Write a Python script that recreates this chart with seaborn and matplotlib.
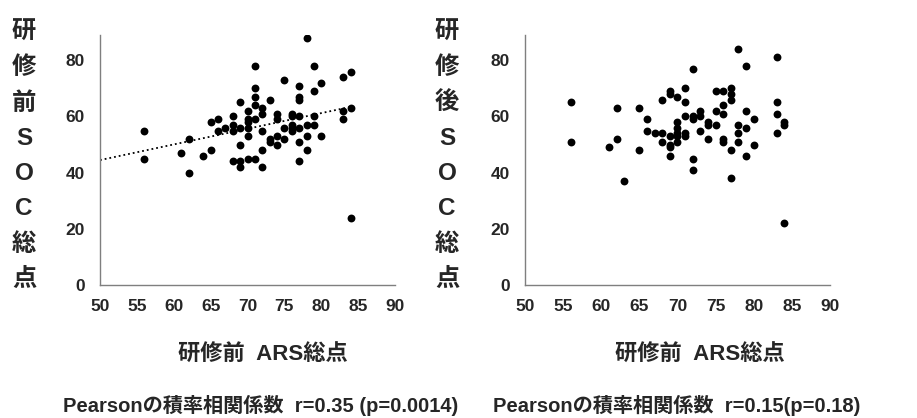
import numpy as np
import pandas as pd
import matplotlib
matplotlib.use("Agg")
import matplotlib.pyplot as plt
import seaborn as sns

# -----------------------
# Data
# -----------------------
pre_ars = [56, 56, 61, 62, 62, 64, 65, 65, 66, 66, 67, 68, 68, 68, 68,
           69, 69, 69, 69, 69, 70, 70, 70, 70, 70, 70,
           71, 71, 71, 71, 71, 71, 72, 72, 72, 72, 72,
           73, 73, 73, 74, 74, 74, 74, 75, 75, 75,
           76, 76, 76, 76, 76, 77, 77, 77, 77, 77, 77, 77,
           78, 78, 78, 78, 79, 79, 79, 79, 80, 80, 83, 83, 83, 84, 84, 84]
pre_soc = [55, 45, 47, 52, 40, 46, 58, 48, 59, 55, 56, 60, 57, 55, 44,
           65, 56, 50, 44, 42, 62, 59, 58, 56, 53, 45,
           78, 70, 67, 64, 59, 45, 63, 61, 55, 48, 42,
           66, 52, 51, 61, 59, 53, 50, 73, 56, 52,
           61, 60, 57, 56, 55, 71, 67, 66, 60, 56, 51, 44,
           88, 57, 53, 48, 78, 69, 60, 57, 72, 53, 74, 62, 59, 76, 63, 24]

post_ars = [56, 56, 61, 62, 62, 63, 65, 65, 66, 66, 67, 68, 68, 68,
            69, 69, 69, 69, 69, 69, 70, 70, 70, 70, 70, 70,
            71, 71, 71, 71, 71, 72, 72, 72, 72, 72, 73, 73, 73,
            74, 74, 74, 75, 75, 75, 76, 76, 76, 76, 76,
            77, 77, 77, 77, 77, 78, 78, 78, 78, 79, 79, 79, 79,
            80, 80, 83, 83, 83, 83, 84, 84, 84]
post_soc = [65, 51, 49, 63, 52, 37, 63, 48, 59, 55, 54, 66, 54, 51,
            69, 68, 53, 50, 49, 46, 67, 58, 56, 54, 53, 51,
            70, 65, 60, 54, 53, 77, 60, 59, 45, 41, 62, 60, 55,
            58, 57, 52, 69, 62, 57, 69, 64, 61, 52, 51,
            70, 68, 66, 48, 38, 84, 57, 54, 51, 78, 62, 56, 46,
            59, 50, 81, 65, 61, 54, 58, 57, 22]

x_ticks = [50, 55, 60, 65, 70, 75, 80, 85, 90]
y_ticks = [0, 20, 40, 60, 80]

xlabel = "研修前  ARS総点"
left_ylabel = "研\n修\n前\nS\nO\nC\n総\n点"
right_ylabel = "研\n修\n後\nS\nO\nC\n総\n点"
left_note = "Pearsonの積率相関係数  r=0.35 (p=0.0014)"
right_note = "Pearsonの積率相関係数  r=0.15(p=0.18)"

df_pre = pd.DataFrame({"ars": pre_ars, "soc": pre_soc})
df_post = pd.DataFrame({"ars": post_ars, "soc": post_soc})

# -----------------------
# Style
# -----------------------
sns.set_style("white")
plt.rcParams['font.family'] = ['Liberation Sans', 'Noto Sans CJK JP', 'DejaVu Sans']

fig = plt.figure(figsize=(9.17, 4.18), dpi=100)
ax1 = fig.add_axes([100 / 917, 1 - 285 / 418, 295 / 917, 250 / 418])
ax2 = fig.add_axes([525 / 917, 1 - 285 / 418, 305 / 917, 250 / 418])


def style_axis(ax):
    ax.set_xlim(50, 90)
    ax.set_ylim(0, 89)
    ax.set_xticks(x_ticks)
    ax.set_yticks(y_ticks)
    ax.set_xlabel("")
    ax.set_ylabel("")
    for side in ["top", "right"]:
        ax.spines[side].set_visible(False)
    for side in ["left", "bottom"]:
        ax.spines[side].set_color("#7f7f7f")
        ax.spines[side].set_linewidth(1.0)
    ax.tick_params(length=0, labelsize=12.5)
    ax.tick_params(axis="y", pad=11)
    ax.tick_params(axis="x", pad=10)
    for lab in ax.get_xticklabels() + ax.get_yticklabels():
        lab.set_fontweight("bold")


# left panel with trend line
sns.scatterplot(data=df_pre, x="ars", y="soc", ax=ax1, color="black",
                s=32, edgecolor="black", linewidth=0)
slope, icpt = np.polyfit(df_pre["ars"], df_pre["soc"], 1)
xs = np.array([50, df_pre["ars"].max()])
ax1.plot(xs, slope * xs + icpt, color="black", linestyle=":", linewidth=1.3)
style_axis(ax1)

# right panel
sns.scatterplot(data=df_post, x="ars", y="soc", ax=ax2, color="black",
                s=32, edgecolor="black", linewidth=0)
style_axis(ax2)

# vertical y labels
fig.text(24 / 917, 1 - 156 / 418, left_ylabel, ha="center", va="center",
         fontsize=17.5, fontweight="bold", linespacing=1.68)
fig.text(447 / 917, 1 - 156 / 418, right_ylabel, ha="center", va="center",
         fontsize=17.5, fontweight="bold", linespacing=1.68)

# x labels
fig.text(263 / 917, 1 - 355 / 418, xlabel, ha="center", va="center",
         fontsize=16, fontweight="bold")
fig.text(700 / 917, 1 - 355 / 418, xlabel, ha="center", va="center",
         fontsize=16, fontweight="bold")

# Pearson notes
fig.text(63 / 917, 1 - 405 / 418, left_note, ha="left", va="center",
         fontsize=14.5, fontweight="bold")
fig.text(493 / 917, 1 - 405 / 418, right_note, ha="left", va="center",
         fontsize=14.5, fontweight="bold")

plt.savefig("out.png", dpi=100)
